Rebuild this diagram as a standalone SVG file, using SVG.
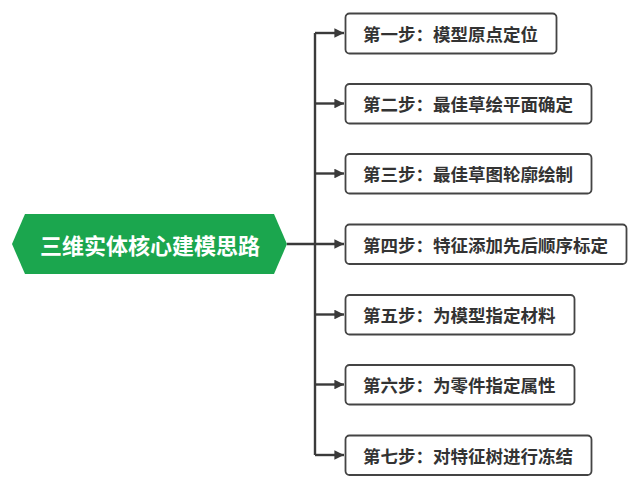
<svg xmlns="http://www.w3.org/2000/svg" width="640" height="494" viewBox="0 0 640 494">
<defs>
<style>
.box{fill:#fff;stroke:#444;stroke-width:1.8}
.t{font-family:"Noto Sans CJK SC","Noto Sans",sans-serif;font-weight:bold;font-size:17.5px;fill:#333}
.c{fill:none;stroke:#3a3a3a;stroke-width:2.4}
.main{font-family:"Noto Sans CJK SC","Noto Sans",sans-serif;font-weight:bold;font-size:22px;fill:#fff}
</style>
<marker id="ah" viewBox="0 0 10 10" refX="10" refY="5" markerWidth="4" markerHeight="4" markerUnits="strokeWidth" orient="auto">
<path d="M0,0 L10,5 L0,10 z" fill="#3a3a3a"/>
</marker>
</defs>
<rect width="640" height="494" fill="#fff"/>
<g id="connectors">
<path class="c" d="M287,244 H344" marker-end="url(#ah)"/>
<path class="c" d="M315,33 V455"/>
<path class="c" d="M315,33 H344" marker-end="url(#ah)"/>
<path class="c" d="M315,103.5 H344" marker-end="url(#ah)"/>
<path class="c" d="M315,173.5 H344" marker-end="url(#ah)"/>
<path class="c" d="M315,314.5 H344" marker-end="url(#ah)"/>
<path class="c" d="M315,384.5 H344" marker-end="url(#ah)"/>
<path class="c" d="M315,455 H344" marker-end="url(#ah)"/>
</g>
<g id="root">
<polygon points="12,244 25,214 274,214 287,244 274,274 25,274" fill="#1ba64e"/>
<text class="main" x="150" y="244" text-anchor="middle" dominant-baseline="central">三维实体核心建模思路</text>
</g>
<g id="step1">
<rect class="box" x="345.5" y="13.5" width="211" height="40" rx="4"/>
<text class="t" x="363" y="33.5" dominant-baseline="central">第一步：模型原点定位</text>
</g>
<g id="step2">
<rect class="box" x="345.5" y="84" width="246" height="39.5" rx="4"/>
<text class="t" x="363" y="103.5" dominant-baseline="central">第二步：最佳草绘平面确定</text>
</g>
<g id="step3">
<rect class="box" x="345.5" y="154" width="246" height="39.5" rx="4"/>
<text class="t" x="363" y="173.5" dominant-baseline="central">第三步：最佳草图轮廓绘制</text>
</g>
<g id="step4">
<rect class="box" x="345.5" y="224.5" width="281" height="39.5" rx="4"/>
<text class="t" x="363" y="244" dominant-baseline="central">第四步：特征添加先后顺序标定</text>
</g>
<g id="step5">
<rect class="box" x="345.5" y="295" width="229" height="39.5" rx="4"/>
<text class="t" x="363" y="314.5" dominant-baseline="central">第五步：为模型指定材料</text>
</g>
<g id="step6">
<rect class="box" x="345.5" y="365" width="229" height="39.5" rx="4"/>
<text class="t" x="363" y="384.5" dominant-baseline="central">第六步：为零件指定属性</text>
</g>
<g id="step7">
<rect class="box" x="345.5" y="435.5" width="246" height="39.5" rx="4"/>
<text class="t" x="363" y="455" dominant-baseline="central">第七步：对特征树进行冻结</text>
</g>
</svg>
